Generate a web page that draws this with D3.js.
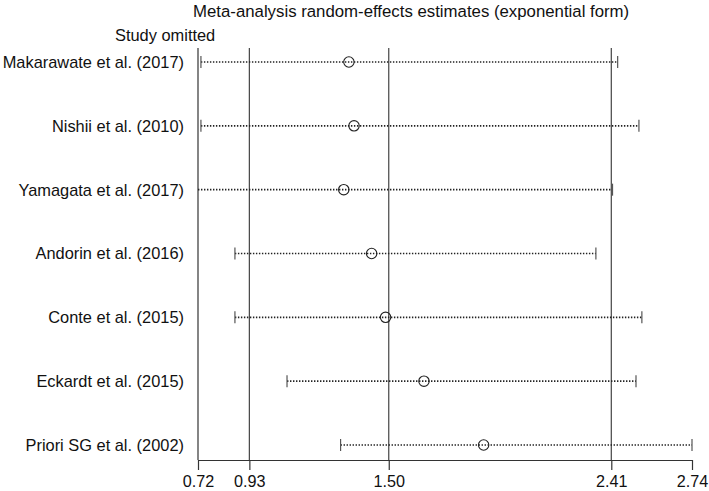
<!DOCTYPE html>
<html><head><meta charset="utf-8">
<script src="https://cdn.jsdelivr.net/npm/d3@7"></script>
<style>body{margin:0;background:#fff}svg{display:block}text{font-family:"Liberation Sans",Arial,Helvetica,sans-serif;fill:#111}</style>
</head><body><svg id="c" width="709" height="491"></svg>
<script>
const studies = ["Makarawate et al. (2017)","Nishii et al. (2010)","Yamagata et al. (2017)","Andorin et al. (2016)","Conte et al. (2015)","Eckardt et al. (2015)","Priori SG et al. (2002)"];
const estimates = [1.337,1.358,1.316,1.430,1.487,1.644,1.888];
const lowerCI = [0.732,0.732,0.72,0.871,0.871,1.084,1.303];
const upperCI = [2.436,2.523,2.415,2.347,2.535,2.511,2.74];
const tickValues = [0.72,0.93,1.50,2.41,2.74];
const refLines = [0.93,1.50,2.41];
const title = "Meta-analysis random-effects estimates (exponential form)";

(function(){
const svg = d3.select("#c");
const x = d3.scaleLinear().domain([0.72,2.74]).range([198,692]);
const y = d3.scalePoint().domain(studies).range([62,445]);
const yTop = 48, yBottom = 460;

svg.selectAll("line.ref").data(refLines).join("line").attr("class","ref")
  .attr("x1",d=>x(d)).attr("x2",d=>x(d)).attr("y1",yTop).attr("y2",yBottom)
  .attr("stroke","#444").attr("stroke-width",1.2);
svg.append("line").attr("x1",x(0.72)).attr("x2",x(0.72)).attr("y1",yTop).attr("y2",yBottom)
  .attr("stroke","#333").attr("stroke-width",1.2);

const ax = svg.append("g").attr("transform",`translate(0,${yBottom})`)
  .call(d3.axisBottom(x).tickValues(tickValues).tickFormat(d3.format(".2f")).tickSize(10).tickSizeOuter(0));
ax.select(".domain").attr("stroke","#333").attr("stroke-width",1.2);
ax.selectAll(".tick line").attr("stroke","#333").attr("stroke-width",1.2);
ax.selectAll(".tick text").attr("font-size","16.2px").attr("y",27).attr("dy","0").attr("fill","#111")
  .style("font-family","'Liberation Sans',Arial,sans-serif");

const rows = studies.map((s,i)=>({s,est:estimates[i],lo:lowerCI[i],hi:upperCI[i]}));
const g = svg.append("g");
g.selectAll("line.ci").data(rows).join("line").attr("class","ci")
  .attr("x1",d=>x(d.lo)).attr("x2",d=>x(d.hi)).attr("y1",d=>y(d.s)).attr("y2",d=>y(d.s))
  .attr("stroke","#222").attr("stroke-width",1.6).attr("stroke-dasharray","1.4,1.6");
g.selectAll("line.lc").data(rows.filter(d=>d.lo>0.72)).join("line").attr("class","lc")
  .attr("x1",d=>x(d.lo)).attr("x2",d=>x(d.lo)).attr("y1",d=>y(d.s)-6).attr("y2",d=>y(d.s)+6)
  .attr("stroke","#555").attr("stroke-width",1.2);
g.selectAll("line.uc").data(rows).join("line").attr("class","uc")
  .attr("x1",d=>x(d.hi)).attr("x2",d=>x(d.hi)).attr("y1",d=>y(d.s)-6).attr("y2",d=>y(d.s)+6)
  .attr("stroke","#555").attr("stroke-width",1.2);
g.selectAll("circle").data(rows).join("circle")
  .attr("cx",d=>x(d.est)).attr("cy",d=>y(d.s)).attr("r",5.2)
  .attr("fill","none").attr("stroke","#222").attr("stroke-width",1.1);

svg.selectAll("text.lab").data(studies).join("text").attr("class","lab")
  .attr("x",184).attr("y",d=>y(d)).attr("dy","0.36em").attr("text-anchor","end")
  .attr("font-size","16.4px").text(d=>d);
svg.append("text").attr("x",115).attr("y",40.5).attr("font-size","16.4px").text("Study omitted");
svg.append("text").attr("x",193).attr("y",17).attr("font-size","16.8px").text(title);
})();
</script></body></html>
